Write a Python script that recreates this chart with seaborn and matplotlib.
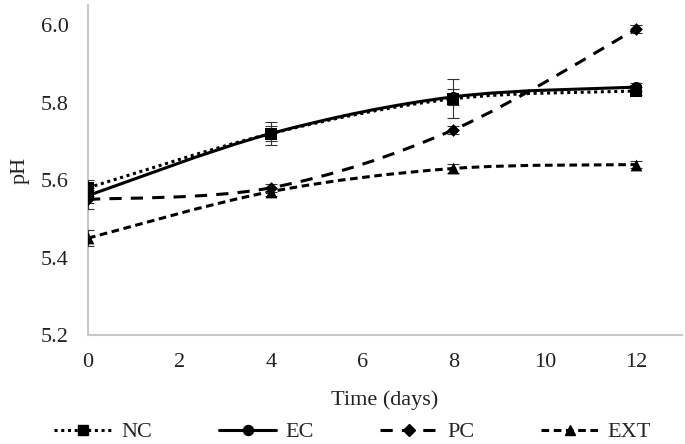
import numpy as np
import pandas as pd
import matplotlib
matplotlib.use('Agg')
import matplotlib.pyplot as plt
from matplotlib.path import Path
from matplotlib.patches import PathPatch
from matplotlib.lines import Line2D
import seaborn as sns

# pH over storage time
days = [0, 4, 8, 12]
nc = [5.58, 5.72, 5.81, 5.83]
ec = [5.56, 5.72, 5.815, 5.84]
pc = [5.55, 5.58, 5.73, 5.99]
ext = [5.45, 5.57, 5.63, 5.64]
nc_err = [0.02, 0.03, 0.05, 0.01]
ec_err = [0.02, 0.02, 0.02, 0.01]
pc_err = [0.025, 0.01, 0.01, 0.01]
ext_err = [0.02, 0.01, 0.012, 0.01]

series = ['NC', 'EC', 'PC', 'EXT']
df = pd.DataFrame({'day': days * 4,
                   'pH': nc + ec + pc + ext,
                   'err': nc_err + ec_err + pc_err + ext_err,
                   'group': [s for s in series for _ in days]})

styles = {
    'NC': dict(ls=(0, (1, 1.2)), marker='s', ms=8),
    'EC': dict(ls='-', marker='o', ms=8),
    'PC': dict(ls=(0, (4, 3)), marker='D', ms=6.5),
    'EXT': dict(ls=(0, (2.5, 1.5)), marker='^', ms=8.5),
}

sns.set_style('white')
plt.rcParams['font.family'] = ['Liberation Serif', 'DejaVu Serif']
plt.rcParams['font.size'] = 16

fig = plt.figure(figsize=(6.85, 4.44), dpi=100)
ax = fig.add_axes([0.1285, 0.2455, 0.867, 0.7432])


# smooth curve like a spreadsheet "smoothed line"
def smooth_path(x, y):
    pts = np.column_stack([x, y]).astype(float)
    verts = [pts[0]]
    codes = [Path.MOVETO]
    n = len(pts)
    for i in range(n - 1):
        p0 = pts[i - 1] if i > 0 else pts[i]
        p1 = pts[i]
        p2 = pts[i + 1]
        p3 = pts[i + 2] if i + 2 < n else pts[i + 1]
        c1 = p1 + (p2 - p0) / 6
        c2 = p2 - (p3 - p1) / 6
        verts += [c1, c2, p2]
        codes += [Path.CURVE4] * 3
    return Path(verts, codes)


for name in series:
    sub = df[df.group == name]
    st = styles[name]
    patch = PathPatch(smooth_path(sub.day, sub.pH), fill=False, ec='black',
                      lw=2.2, ls=st['ls'], transform=ax.transData, zorder=2)
    ax.add_patch(patch)
    ax.errorbar(sub.day, sub.pH, yerr=sub.err, fmt='none', ecolor='#333333',
                elinewidth=0.8, capsize=4, capthick=0.8, zorder=3)
    sns.scatterplot(x=sub.day, y=sub.pH, marker=st['marker'], s=st['ms'] ** 2,
                    color='black', edgecolor='black', linewidth=0, ax=ax,
                    zorder=4, legend=False)

ax.set_xlim(0, 13.0)
ax.set_ylim(5.2, 6.052)
ax.set_xticks(range(0, 13, 2))
ax.set_yticks([5.2, 5.4, 5.6, 5.8, 6.0])
ax.set_yticklabels(['5.2', '5.4', '5.6', '5.8', '6.0'])
ax.tick_params(length=0, labelsize=16, colors='#222222')
ax.tick_params(axis='y', pad=14)
ax.tick_params(axis='x', pad=13)
ax.set_xlabel('Time (days)', fontsize=16, labelpad=13)
ax.set_ylabel('pH', fontsize=16, labelpad=8)
ax.xaxis.label.set_color('#222222')
ax.yaxis.label.set_color('#222222')
for side in ['top', 'right']:
    ax.spines[side].set_visible(False)
for side in ['left', 'bottom']:
    ax.spines[side].set_color('#c8c8c8')
    ax.spines[side].set_linewidth(1.5)

handles = [Line2D([], [], color='black', lw=2.2, ls=styles[s]['ls'],
                  marker=styles[s]['marker'], ms=styles[s]['ms'] * 0.9)
           for s in series]
fig.legend(handles, series, loc='center', bbox_to_anchor=(0.515, 0.027),
           ncol=4, frameon=False, fontsize=16, handlelength=2.6,
           handletextpad=0.4, columnspacing=3.0)

fig.savefig('out.png', dpi=100)
